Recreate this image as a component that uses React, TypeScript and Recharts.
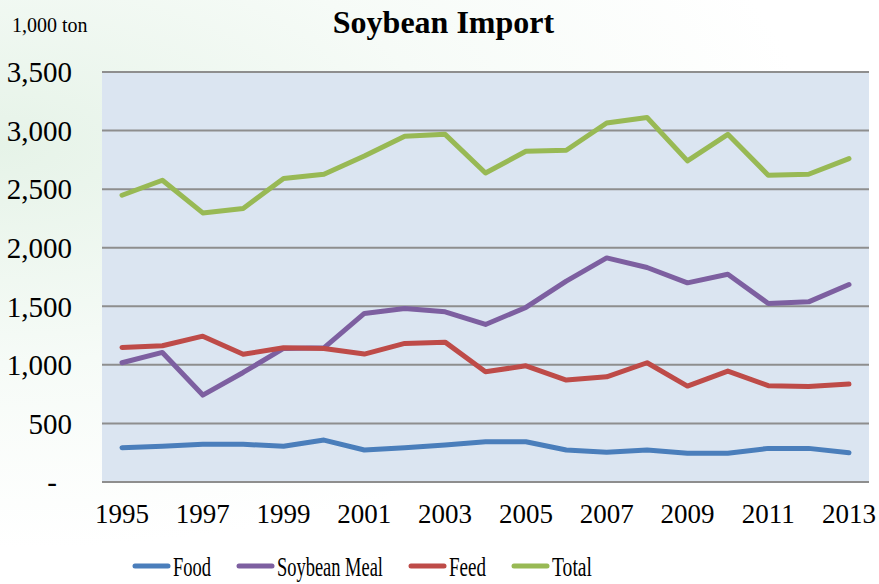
import { LineChart, Line, XAxis, YAxis, CartesianGrid, Legend } from "recharts";

const years = [
  "1995", "1996", "1997", "1998", "1999", "2000", "2001", "2002", "2003", "2004",
  "2005", "2006", "2007", "2008", "2009", "2010", "2011", "2012", "2013",
];
const food = [293, 305, 322, 322, 305, 358, 273, 293, 316, 344, 344, 273, 255, 273, 245, 245, 287, 287, 250];
const soybeanMeal = [1018, 1106, 742, 935, 1140, 1145, 1439, 1481, 1453, 1345, 1490, 1715, 1913, 1831, 1700, 1774, 1524, 1538, 1686];
const feed = [1149, 1163, 1245, 1090, 1146, 1140, 1092, 1183, 1194, 941, 992, 870, 898, 1018, 819, 947, 822, 815, 836];
const total = [2448, 2576, 2297, 2335, 2590, 2627, 2783, 2951, 2968, 2638, 2823, 2832, 3065, 3111, 2741, 2968, 2619, 2627, 2761];
const yTicks = [0, 500, 1000, 1500, 2000, 2500, 3000, 3500];
const seriesNames = ["Food", "Soybean Meal", "Feed", "Total"];

const data = years.map((year, i) => ({
  year,
  food: food[i],
  soybeanMeal: soybeanMeal[i],
  feed: feed[i],
  total: total[i],
}));

const serif = "'Liberation Serif', 'Times New Roman', serif";

function YTick({ x, y, payload }: any) {
  const v = payload.value as number;
  return (
    <text
      x={v === 0 ? x - 15 : x}
      y={y}
      dy="0.355em"
      textAnchor="end"
      fill="#000"
      fontSize={29}
      fontFamily={serif}
    >
      {v === 0 ? "-" : v.toLocaleString("en-US")}
    </text>
  );
}

// legend text is condensed in the original, so squeeze it with textLength
const legendTextWidths: Record<string, number> = {
  Food: 38,
  "Soybean Meal": 106,
  Feed: 37,
  Total: 40,
};

function LegendContent({ payload }: any) {
  const items = [...(payload || [])].sort(
    (a: any, b: any) => seriesNames.indexOf(a.value) - seriesNames.indexOf(b.value)
  );
  let cx = 133;
  return (
    <svg width={869} height={42} style={{ display: "block" }}>
      {items.map((item: any) => {
        const start = cx;
        const w = legendTextWidths[item.value] ?? 40;
        cx += 40 + w + 26;
        return (
          <g key={item.value}>
            <line
              x1={start + 2}
              x2={start + 35}
              y1={24}
              y2={24}
              stroke={item.color}
              strokeWidth={5}
              strokeLinecap="round"
            />
            <text
              x={start + 40}
              y={34}
              fontSize={28}
              fontFamily={serif}
              fill="#000"
              textLength={w}
              lengthAdjust="spacingAndGlyphs"
            >
              {item.value}
            </text>
          </g>
        );
      })}
    </svg>
  );
}

export default function App() {
  return (
    <div
      style={{
        position: "absolute",
        left: 0,
        top: 0,
        width: 879,
        height: 584,
        background: "radial-gradient(ellipse at 0% 25%, #e6f3e8 0%, #f6fbf7 35%, #ffffff 65%)",
      }}
    >
      <div
        style={{
          position: "absolute",
          left: 12,
          top: 13,
          fontFamily: serif,
          fontSize: 20,
          lineHeight: "24px",
          color: "#000",
        }}
      >
        1,000 ton
      </div>
      <div
        style={{
          position: "absolute",
          left: 0,
          width: 887,
          top: 3,
          textAlign: "center",
          fontFamily: serif,
          fontSize: 32,
          lineHeight: "38px",
          fontWeight: 700,
          color: "#000",
        }}
      >
        Soybean Import
      </div>
      <LineChart
        width={879}
        height={584}
        data={data}
        margin={{ top: 72, right: 10, left: 0, bottom: 0 }}
      >
        <CartesianGrid vertical={false} stroke="#8e8e8e" strokeWidth={2} fill="#dbe5f1" />
        <XAxis
          dataKey="year"
          interval={1}
          padding={{ left: 20, right: 20 }}
          height={60}
          axisLine={{ stroke: "#8e8e8e", strokeWidth: 2 }}
          tickLine={false}
          tickSize={0}
          tickMargin={22}
          tick={{ fill: "#000", fontSize: 27, fontFamily: serif }}
        />
        <YAxis
          domain={[0, 3500]}
          ticks={yTicks}
          width={102}
          axisLine={false}
          tickLine={false}
          tickSize={0}
          tickMargin={30}
          tick={<YTick />}
        />
        <Legend verticalAlign="bottom" height={42} content={<LegendContent />} />
        <Line
          dataKey="food"
          name="Food"
          stroke="#4a7ebb"
          strokeWidth={5}
          strokeLinecap="round"
          strokeLinejoin="round"
          dot={false}
          isAnimationActive={false}
        />
        <Line
          dataKey="soybeanMeal"
          name="Soybean Meal"
          stroke="#7d5fa0"
          strokeWidth={5}
          strokeLinecap="round"
          strokeLinejoin="round"
          dot={false}
          isAnimationActive={false}
        />
        <Line
          dataKey="feed"
          name="Feed"
          stroke="#be4b48"
          strokeWidth={5}
          strokeLinecap="round"
          strokeLinejoin="round"
          dot={false}
          isAnimationActive={false}
        />
        <Line
          dataKey="total"
          name="Total"
          stroke="#98b954"
          strokeWidth={5}
          strokeLinecap="round"
          strokeLinejoin="round"
          dot={false}
          isAnimationActive={false}
        />
      </LineChart>
    </div>
  );
}
